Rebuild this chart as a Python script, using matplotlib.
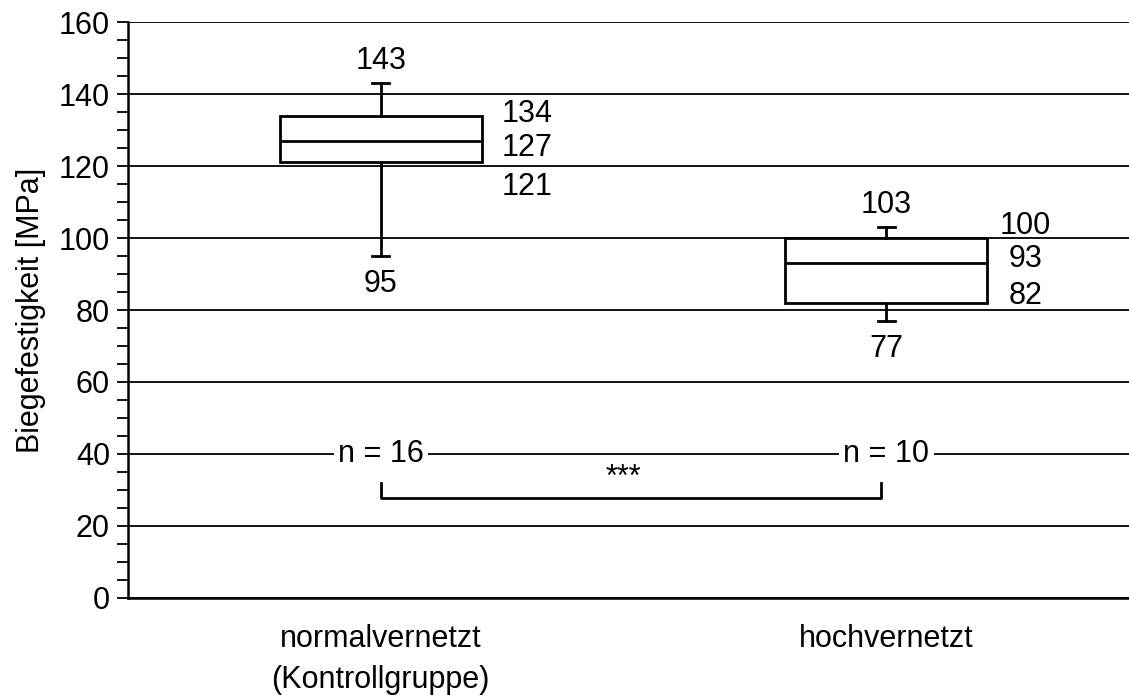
import numpy as np
import matplotlib.pyplot as plt
from matplotlib.ticker import MultipleLocator

plt.rcParams['font.family'] = ['Liberation Sans', 'DejaVu Sans']

# data
groups = ["normalvernetzt\n(Kontrollgruppe)", "hochvernetzt"]
n_values = [16, 10]
whisker_low = [95, 77]
q1 = [121, 82]
median = [127, 93]
q3 = [134, 100]
whisker_high = [143, 103]

stats = []
for i in range(len(groups)):
    stats.append(dict(whislo=whisker_low[i], q1=q1[i], med=median[i],
                      q3=q3[i], whishi=whisker_high[i], fliers=[]))

FS = 22

fig = plt.figure(figsize=(11.29, 6.95), dpi=100)
ax = fig.add_axes([0.1134, 0.1396, 0.8866, 0.8287])

pos = np.arange(1, len(groups) + 1)
lw = 2.0
ax.bxp(stats, positions=pos, widths=0.4, capwidths=0.034, patch_artist=True,
       showfliers=False,
       boxprops=dict(facecolor='white', edgecolor='black', linewidth=lw),
       medianprops=dict(color='black', linewidth=lw),
       whiskerprops=dict(color='black', linewidth=lw),
       capprops=dict(color='black', linewidth=lw),
       zorder=3)

# value labels (offsets in points, tuned to the reference layout)
right_x = [pos[0] + 0.29, pos[1] + 0.275]
right_off = [[1, -5.5, -18], [9, 3, 5]]
for i in range(len(groups)):
    ax.annotate(str(whisker_high[i]), (pos[i], whisker_high[i]), xytext=(0, 16),
                textcoords='offset points', ha='center', va='center', fontsize=FS)
    ax.annotate(str(whisker_low[i]), (pos[i], whisker_low[i]), xytext=(0, -20),
                textcoords='offset points', ha='center', va='center', fontsize=FS)
    for v, off in zip([q3[i], median[i], q1[i]], right_off[i]):
        ax.annotate(str(v), (right_x[i], v), xytext=(0, off),
                    textcoords='offset points', ha='center', va='center', fontsize=FS)
    ax.text(pos[i], 40, f"n = {n_values[i]}", ha='center', va='center', fontsize=FS,
            bbox=dict(facecolor='white', edgecolor='none', pad=3), zorder=4)

# significance bracket
ax.plot([pos[0], pos[0], pos[1] - 0.01, pos[1] - 0.01], [31.9, 27.8, 27.8, 31.9],
        color='black', lw=lw, zorder=4)
ax.text(1.48, 33.3, "***", ha='center', va='center', fontsize=FS)

ax.set_xlim(0.5, 2.48)
ax.set_ylim(0, 160)
ax.set_yticks(range(0, 161, 20))
ax.yaxis.set_minor_locator(MultipleLocator(5))
ax.yaxis.grid(True, color='black', lw=1.3)
ax.set_axisbelow(True)
ax.set_xticks(pos)
ax.set_xticklabels(groups)
for t in ax.get_xticklabels():
    t.set_linespacing(1.45)
ax.tick_params(axis='y', which='both', direction='out', length=8, width=1.3,
               labelsize=FS, pad=5)
ax.tick_params(axis='x', length=0, pad=19, labelsize=FS)
ax.set_ylabel("Biegefestigkeit [MPa]", fontsize=FS, labelpad=9)

for s in ['top', 'right']:
    ax.spines[s].set_visible(False)
for s in ['left', 'bottom']:
    ax.spines[s].set_linewidth(1.8)

fig.savefig("out.png", dpi=100)
